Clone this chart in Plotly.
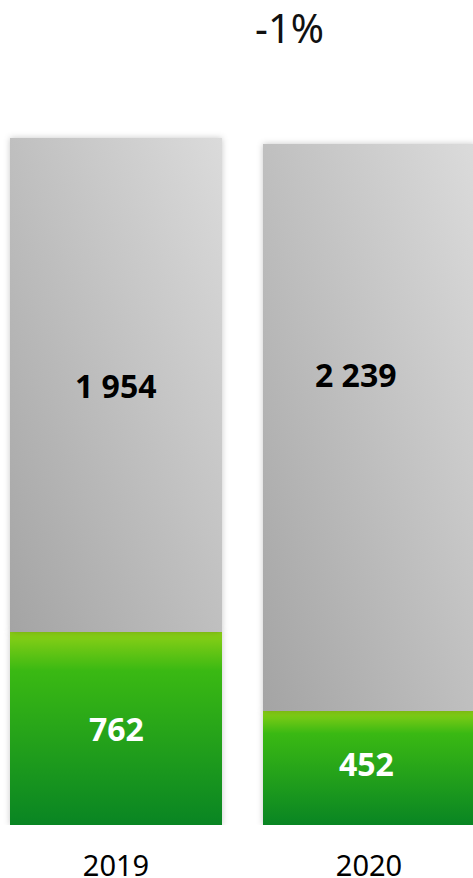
import plotly.graph_objects as go

# -----------------------------
# Data
# -----------------------------
years = ["2019", "2020"]
green_values = [762, 452]
grey_values = [1954, 2239]

GREEN = "#2DB016"
GREY = "#C4C4C4"
FONT = "Noto Sans"


def fmt(v):
    return f"{v:,}".replace(",", " ")


totals = [g + s for g, s in zip(green_values, grey_values)]
change_pct = round((totals[1] - totals[0]) / totals[0] * 100)

# -----------------------------
# Build Figure
# -----------------------------
fig = go.Figure()

fig.add_trace(go.Bar(
    x=years,
    y=green_values,
    marker=dict(color=GREEN, line=dict(width=0)),
    hoverinfo="skip",
))

fig.add_trace(go.Bar(
    x=years,
    y=grey_values,
    marker=dict(color=GREY, line=dict(width=0)),
    hoverinfo="skip",
))

# segment labels (2020 ones sit a bit off-centre in the original)
shifts_green = [(0, 0), (-3, 4)]
shifts_grey = [(0, 0), (-13, 53)]

annotations = []
for i in range(len(years)):
    annotations.append(dict(
        x=i, y=green_values[i] / 2, text=fmt(green_values[i]),
        showarrow=False, xshift=shifts_green[i][0], yshift=shifts_green[i][1],
        font=dict(family=FONT, size=32, color="white", weight="bold"),
    ))
    annotations.append(dict(
        x=i, y=green_values[i] + grey_values[i] / 2, text=fmt(grey_values[i]),
        showarrow=False, xshift=shifts_grey[i][0], yshift=shifts_grey[i][1],
        font=dict(family=FONT, size=32, color="black", weight="bold"),
    ))

annotations.append(dict(
    xref="paper", yref="paper", x=0.611, y=0.967,
    text=f"{change_pct}%", showarrow=False,
    xanchor="center", yanchor="middle",
    font=dict(family=FONT, size=40, color="#111111"),
))

fig.update_layout(
    width=473,
    height=878,
    barmode="stack",
    bargap=0.162,
    showlegend=False,
    plot_bgcolor="white",
    paper_bgcolor="white",
    margin=dict(l=0, r=0, t=0, b=53, autoexpand=False),
    annotations=annotations,
    xaxis=dict(
        type="category",
        range=[-0.4585, 1.411],
        automargin=False,
        showgrid=False,
        zeroline=False,
        showline=False,
        ticks="",
        tickfont=dict(family=FONT, size=29, color="black"),
        ticklabelstandoff=21,
    ),
    yaxis=dict(
        range=[0, 3261],
        visible=False,
        automargin=False,
        showgrid=False,
        zeroline=False,
    ),
)

# gradient fills + soft shadow, applied to the drawn bar paths
post = """
document.body.style.margin = '0';
var gd = document.getElementById('{plot_id}');
var svg = gd.querySelector('.main-svg');
var ns = 'http://www.w3.org/2000/svg';
var defs = svg.querySelector('defs');
function grad(id, x1, y1, x2, y2, stops) {
  var g = document.createElementNS(ns, 'linearGradient');
  g.setAttribute('id', id);
  g.setAttribute('x1', x1); g.setAttribute('y1', y1);
  g.setAttribute('x2', x2); g.setAttribute('y2', y2);
  stops.forEach(function (s) {
    var st = document.createElementNS(ns, 'stop');
    st.setAttribute('offset', s[0]);
    st.setAttribute('stop-color', s[1]);
    g.appendChild(st);
  });
  defs.appendChild(g);
}
grad('gradGreen', 0, 0, 0, 1, [['0', '#8DD016'], ['0.2', '#3AB913'], ['1', '#098523']]);
grad('gradGrey', 0, 1, 1, 0, [['0', '#A4A4A4'], ['1', '#DBDBDB']]);
var traces = gd.querySelectorAll('.barlayer .trace');
traces.forEach(function (t, i) {
  t.querySelectorAll('path').forEach(function (p) {
    p.style.fill = 'url(#' + (i === 0 ? 'gradGreen' : 'gradGrey') + ')';
  });
  t.style.filter = 'drop-shadow(0 0 3px rgba(0,0,0,0.22))';
});
"""

fig.write_html("out.html", post_script=post, config={"displayModeBar": False})
